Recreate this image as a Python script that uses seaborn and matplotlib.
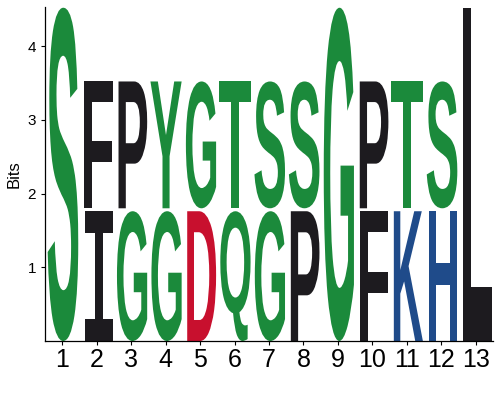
import numpy as np
import matplotlib
matplotlib.use('Agg')
import matplotlib.pyplot as plt
import seaborn as sns
from matplotlib.textpath import TextPath
from matplotlib.patches import PathPatch
from matplotlib.font_manager import FontProperties
from matplotlib.transforms import Affine2D

# sequence logo data: letters stacked per position (bottom to top), heights in bits
positions = list(range(1, 14))
bottom_letters = ['S', 'I', 'G', 'G', 'D', 'Q', 'G', 'P', 'G', 'F', 'K', 'H', 'L']
bottom_bits = [4.52, 1.76, 1.76, 1.76, 1.76, 1.76, 1.76, 1.76, 4.52, 1.76, 1.76, 1.76, 4.52]
top_letters = ['', 'F', 'P', 'Y', 'G', 'T', 'S', 'S', '', 'P', 'T', 'S', '']
top_bits = [0, 1.76, 1.76, 1.76, 1.76, 1.76, 1.76, 1.76, 0, 1.76, 1.76, 1.76, 0]

palette = {
    'S': '#1b8a3b', 'G': '#1b8a3b', 'Y': '#1b8a3b', 'T': '#1b8a3b', 'Q': '#1b8a3b',
    'I': '#1d1b1f', 'F': '#1d1b1f', 'P': '#1d1b1f', 'L': '#1d1b1f',
    'D': '#c8102e',
    'K': '#1f4b8a', 'H': '#1f4b8a',
}

sns.set_theme(style='ticks')
plt.rcParams['font.family'] = ['Liberation Sans', 'DejaVu Sans']

fig = plt.figure(figsize=(5, 4), dpi=100)
ax = fig.add_axes([0.09, 0.1475, 0.896, 0.835])

font = FontProperties(family='Liberation Sans', weight='bold')
# the logo font draws I with serifs
serif_font = FontProperties(family='Liberation Mono', weight='bold')


def draw_letter(ax, letter, x, y0, height, width=0.93):
    prop = serif_font if letter == 'I' else font
    path = TextPath((0, 0), letter, size=1, prop=prop)
    verts = path.vertices
    xmin, ymin = verts.min(axis=0)
    xmax, ymax = verts.max(axis=0)
    tr = (Affine2D()
          .translate(-xmin, -ymin)
          .scale(width / (xmax - xmin), height / (ymax - ymin))
          .translate(x - width / 2, y0))
    patch = PathPatch(tr.transform_path(path), facecolor=palette[letter],
                      edgecolor='none', linewidth=0)
    ax.add_patch(patch)


gap = 0.04
for pos, bl, bb, tl, tb in zip(positions, bottom_letters, bottom_bits, top_letters, top_bits):
    draw_letter(ax, bl, pos, 0, bb)
    if tl:
        draw_letter(ax, tl, pos, bb + gap, tb - gap)

ax.set_xlim(0.5, 13.5)
ax.set_ylim(0, 4.53)
ax.set_xticks(positions)
ax.set_xticklabels([str(p) for p in positions], fontsize=18)
ax.set_yticks([1, 2, 3, 4])
ax.tick_params(axis='y', labelsize=11, length=3, width=0.8, colors='black')
ax.tick_params(axis='x', length=3, width=0.8, pad=2, colors='black')
ax.set_ylabel('Bits', fontsize=12, color='black')
for s in ['left', 'bottom']:
    ax.spines[s].set_color('black')
    ax.spines[s].set_linewidth(0.9)
sns.despine(ax=ax)

fig.savefig('out.png', dpi=100)
